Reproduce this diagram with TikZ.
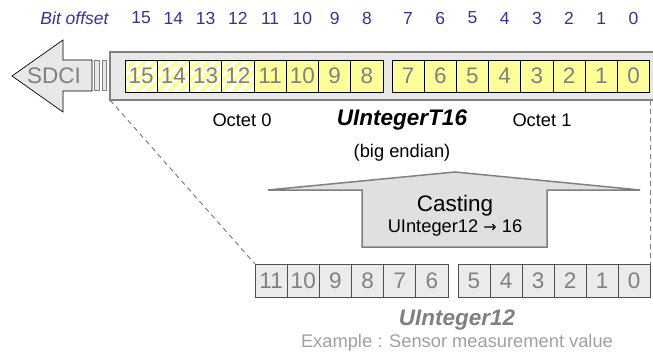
\documentclass[tikz,border=0pt]{standalone}
\usepackage{fontspec}
\setmainfont{Liberation Sans}
\newfontfamily\arrowfont{DejaVu Sans}
\usetikzlibrary{calc}
\definecolor{lblblue}{HTML}{333399}
\definecolor{numgray}{HTML}{808080}
\definecolor{bitylw}{HTML}{FFFF99}
\definecolor{contfill}{HTML}{E8E8E8}
\definecolor{contline}{HTML}{808080}
\definecolor{lowfill}{HTML}{EBEBEB}
\definecolor{lowline}{HTML}{505050}
\definecolor{castfill}{HTML}{E0E0E0}
\definecolor{extext}{HTML}{A0A0A0}
\begin{document}
\begin{tikzpicture}[x=1pt,y=-1pt,
  toplbl/.style={text=lblblue, font=\fontsize{17.5}{19}\selectfont, inner sep=0},
  bitbox/.style={draw=black, line width=0.8pt, minimum width=32.2pt, minimum height=32pt,
     inner sep=0, outer sep=0, text=numgray, font=\fontsize{22.5}{24}\selectfont},
  ylwbox/.style={bitbox, fill=bitylw},
  hatchbox/.style={bitbox, fill=white, path picture={
     \foreach \k in {-5,...,4}
       \draw[bitylw, line width=4pt]
         ($(path picture bounding box.south west)+(\k*11,0)$) -- ++(50,-50);}},
  lowbox/.style={draw=lowline, line width=0.8pt, fill=lowfill, minimum width=32.2pt, minimum height=33pt,
     inner sep=0, outer sep=0, text=numgray, font=\fontsize{22.5}{24}\selectfont},
  dashline/.style={draw=numgray, line width=1pt, dash pattern=on 5pt off 4pt},
  plain/.style={inner sep=0, font=\fontsize{18.3}{20}\selectfont},
  title/.style={inner sep=0, font=\fontsize{22.5}{24}\selectfont\bfseries\itshape}
]
\useasboundingbox (0,0) rectangle (653,353);
\clip (0,0) rectangle (653,353);

% container
\node[draw=contline, fill=contfill, line width=1.5pt, minimum width=560pt, minimum height=48pt,
      inner sep=0, outer sep=0, anchor=north west] (cont) at (110,52) {};

% SDCI arrow
\draw[draw=black, line width=0.7pt, fill=contfill]
  (12,76) -- (63,40) -- (63,60) -- (92,60) -- (92,91) -- (63,91) -- (63,112) -- cycle;
\node[text=numgray, inner sep=0, font=\fontsize{22.5}{24}\selectfont] (sdci) at (54,76) {SDCI};
\draw[draw=numgray, line width=1pt, fill=contfill] (94.5,60.5) rectangle (99.5,90.5);
\draw[draw=numgray, line width=1pt, fill=contfill] (102,60.5) rectangle (106.5,90.5);

% top bits, octet 0
\foreach \i in {0,...,3} {
  \pgfmathtruncatemacro\b{15-\i}
  \node[hatchbox] (t\b) at ({125+32.25*\i+16.125},76) {\b};
}
\foreach \i in {4,...,7} {
  \pgfmathtruncatemacro\b{15-\i}
  \node[ylwbox] (t\b) at ({125+32.25*\i+16.125},76) {\b};
}
% octet 1
\foreach \i in {0,...,7} {
  \pgfmathtruncatemacro\b{7-\i}
  \node[ylwbox] (t\b) at ({392+32.2*\i+16.1},76) {\b};
}

% bit offset labels
\node[toplbl, font=\fontsize{17.5}{19}\selectfont\itshape] (bitoff) at (74.5,18) {Bit offset};
\foreach \b in {0,...,15} {
  \node[toplbl] (o\b) at (t\b.center |- 0,18) {\b};
}

% labels under top row
\node[plain] (oct0) at (242,120) {Octet 0};
\node[title] (u16) at (402,120) {UIntegerT16};
\node[plain] (oct1) at (542,120) {Octet 1};
\node[plain] (endian) at (402,153) {(big endian)};

% casting arrow
\draw[draw=numgray, line width=1.5pt, fill=castfill, line join=miter]
  (268,190) -- (455,172) -- (640,190) -- (547,190) -- (547,247) -- (362,247) -- (362,190) -- cycle;
\node[inner sep=0, font=\fontsize{22.5}{24}\selectfont] (cast1) at (455,206) {Casting};
\node[inner sep=0, font=\fontsize{18.3}{20}\selectfont] (cast2) at (455,228) {UInteger12 {\arrowfont\fontsize{16}{18}\selectfont →} 16};

% bottom bits
\foreach \i in {0,...,5} {
  \pgfmathtruncatemacro\b{11-\i}
  \node[lowbox] (b\b) at ({255+32.17*\i+16.08},280.5) {\b};
}
\foreach \i in {0,...,5} {
  \pgfmathtruncatemacro\b{5-\i}
  \node[lowbox, minimum width=32pt] (b\b) at ({458+32*\i+16},280.5) {\b};
}

% dashed projection lines
\draw[dashline] (cont.south west) -- (b11.north west);
\draw[dashline] (b0.north east |- cont.south) -- (b0.north east);

% bottom texts
\node[title, text=numgray] (u12) at (457,320) {UInteger12};
\node[plain, text=extext] (example) at (457,343) {Example : Sensor measurement value};
\end{tikzpicture}
\end{document}
